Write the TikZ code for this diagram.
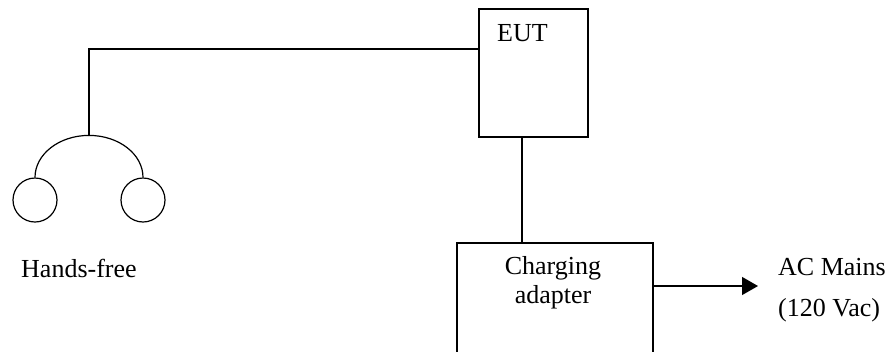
\documentclass[tikz,border=0pt]{standalone}
\usepackage{fontspec}
\setmainfont{Liberation Serif}
\usetikzlibrary{arrows.meta}
\begin{document}
\begin{tikzpicture}[x=1pt,y=-1pt,
  wire/.style={line width=1.2pt,black},
  box/.style={draw,line width=1.2pt,rectangle,inner sep=0pt},
  ear/.style={draw,line width=1.2pt,circle,inner sep=0pt,minimum size=44pt},
  lbl/.style={font=\fontsize{26pt}{29pt}\selectfont,inner sep=0pt,align=center}]
\useasboundingbox (0,0) rectangle (888,351);
\clip (0,0) rectangle (888,351);
% EUT
\node[box,minimum width=109pt,minimum height=128pt] (eut) at (533.5,73) {};
\node[lbl] (eutlbl) at (522.5,33) {EUT};
% Charging adapter
\node[box,minimum width=196pt,minimum height=140pt] (adp) at (555,313) {};
\node[lbl] (adplbl) at (553,283) {Charging\\adapter};
% Headphones
\node[ear] (lc) at (35,200) {};
\node[ear] (rc) at (143,200) {};
\draw[wire] (lc.north) arc[start angle=180,end angle=360,x radius=54,y radius=42];
\coordinate (j) at (89,136);
\coordinate (eutin) at (479,49);
\draw[wire] (j) |- (eutin);
\node[lbl,anchor=west] (hf) at (21,268) {Hands-free};
% EUT to adapter
\coordinate (eutout) at (522,137);
\coordinate (adpin) at (522,243);
\draw[wire] (eutout) -- (adpin);
% AC mains
\coordinate (adpout) at (653,286);
\coordinate (mains) at (758,286);
\draw[wire,-{Triangle[length=16pt,width=18pt]}] (adpout) -- (mains);
\node[lbl,anchor=west] (ac) at (778,267) {AC Mains};
\node[lbl,anchor=west] (vac) at (778,310) {(120 Vac)};
\end{tikzpicture}
\end{document}
